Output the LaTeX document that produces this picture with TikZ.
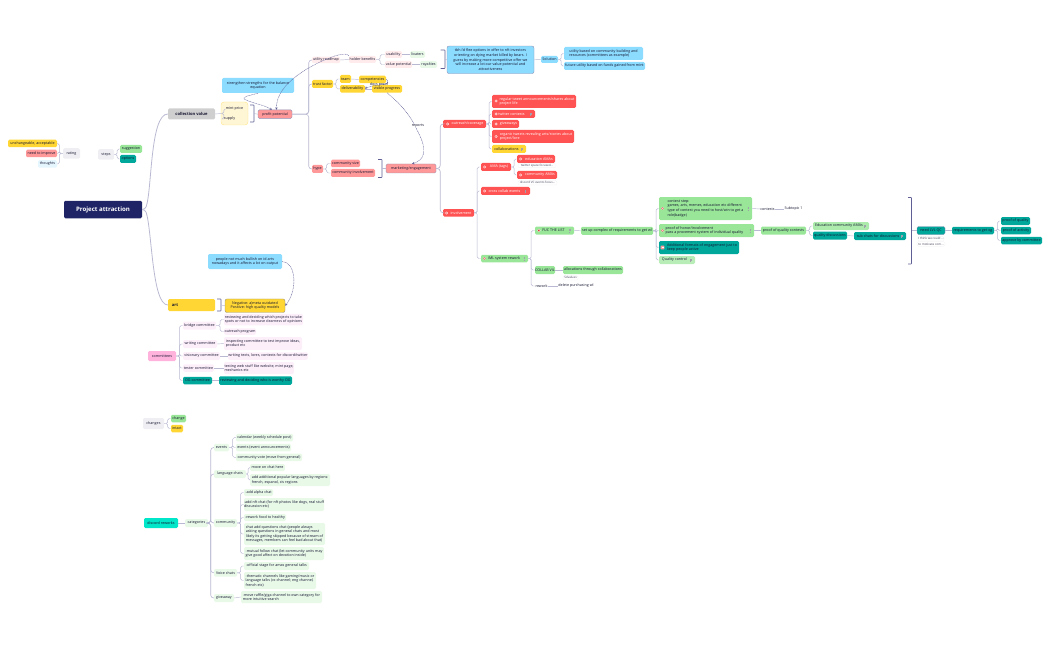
\documentclass[tikz,border=0pt]{standalone}
\usepackage{fontspec}
\setmainfont{Open Sans}
\usepackage{tikz}
\usetikzlibrary{arrows, arrows.meta, positioning}

\definecolor{inkdark}{HTML}{141430}
\definecolor{navy}{HTML}{1F2466}
\definecolor{linelav}{HTML}{B9B9D3}
\definecolor{sumline}{HTML}{5F5F96}
\definecolor{greybox}{HTML}{CFCFCF}
\definecolor{palegrey}{HTML}{EFEFF3}
\definecolor{goldbox}{HTML}{FFD633}
\definecolor{creambox}{HTML}{FFF6D5}
\definecolor{pinkbox}{HTML}{FF9999}
\definecolor{palepink}{HTML}{FFEBEB}
\definecolor{redbox}{HTML}{FF5252}
\definecolor{skybox}{HTML}{8CDCFF}
\definecolor{paleblue}{HTML}{E5F6FF}
\definecolor{greenbox}{HTML}{99E699}
\definecolor{palegreen}{HTML}{E8F9E8}
\definecolor{tealbox}{HTML}{00A89C}
\definecolor{aquabox}{HTML}{00E6C8}
\definecolor{rosebox}{HTML}{FFB3DC}
\definecolor{palerose}{HTML}{FDEFFA}

\tikzset{
    wh/.style 2 args={minimum width=#1pt, minimum height=#2pt},
    item/.style={inner sep=0pt, rounded corners=1.3pt, align=center, text=inkdark,
        font=\fontsize{3.65}{4.6}\selectfont},
    greyitem/.style={item, fill=palegrey},
    golditem/.style={item, fill=goldbox},
    pinkitem/.style={item, fill=pinkbox},
    ppinkitem/.style={item, fill=palepink},
    reditem/.style={item, fill=redbox, text=white},
    skyitem/.style={item, fill=skybox},
    greenitem/.style={item, fill=greenbox},
    pgreenitem/.style={item, fill=palegreen},
    tealitem/.style={item, fill=tealbox},
    roseitem/.style={item, fill=palerose},
    noteitem/.style={item, fill=white, draw=palegrey, line width=0.25pt, text=inkdark!80,
        font=\fontsize{3}{3.8}\selectfont},
    plain/.style={item, text=inkdark},
    marked/.style={draw=sumline!70, line width=0.4pt},
    link/.style={draw=linelav, line width=0.45pt, rounded corners=1.5pt},
    trunk/.style={draw=linelav, line width=0.8pt, rounded corners=3pt},
    bracket/.style={draw=sumline, line width=0.55pt, rounded corners=0.6pt},
    relation/.style={draw=sumline, line width=0.4pt, dash pattern=on 1pt off 0.6pt, -{Stealth[length=2.4pt,width=2.4pt]}}
}

\begin{document}
\begin{tikzpicture}[x=1pt, y=-1pt]
    \useasboundingbox (0,0) rectangle (1050,650);

    % legends
    \node[golditem, wh={49}{7.5}] (unchangeable) at (32.5,143.5) {unchangeable, acceptable};
    \node[pinkitem, wh={31}{7.5}] (improve) at (41.5,153.5) {need to improve};
    \node[item, fill=paleblue, wh={19}{7.5}] (thoughts) at (47.5,164) {thoughts};
    \node[greyitem, wh={17}{10.5}] (rating) at (71.5,153.5) {rating};
    \node[greyitem, wh={16}{10.5}] (steps) at (106,154.5) {steps};
    \node[greenitem, wh={22}{8}] (suggestion) at (131,149) {suggestion};
    \node[tealitem, wh={16}{8}] (options) at (128,159) {options};

    % root and main branches
    \node[item, fill=navy, text=white, wh={78}{17.5}, font=\fontsize{6.1}{7}\selectfont\bfseries] (project) at (103,209.5) {Project attraction};
    \node[item, fill=greybox, wh={47}{11}, font=\fontsize{4.1}{5}\selectfont\bfseries] (collection) at (191.5,114) {collection value};
    \node[item, fill=goldbox, wh={47}{12}, font=\fontsize{4.1}{5}\selectfont\bfseries, text depth=0pt] (art) at (191.5,305) {\hspace*{-33pt}art};

    % collection value
    \node[item, fill=creambox, draw=goldbox!60, line width=0.4pt, rounded corners=3pt, wh={27}{23}] (mintbox) at (234.5,113.5) {};
    \node[plain] (mintprice) at (234.5,109) {mint price};
    \node[plain] (supply) at (229.5,119) {supply};
    \node[pinkitem, marked, wh={34}{8.5}] (profit) at (275,114.2) {profit potential};
    \node[skyitem, wh={72}{15}] (strengthen) at (258,85.5) {strengthen strengths for the balance\\equation};

    \node[ppinkitem, wh={28}{6.5}] (utility) at (326,60) {utility roadmap};
    \node[ppinkitem, wh={27}{7}] (holder) at (362.5,59.5) {holder benefits};
    \node[ppinkitem, wh={17}{7}] (usability) at (393.5,54.5) {usability};
    \node[ppinkitem, wh={27}{7}] (valuepot) at (398.5,64.5) {value potential};
    \node[pgreenitem, wh={15}{7}] (lixaters) at (417.5,54.5) {lixaters};
    \node[pgreenitem, wh={17}{7}] (royalties) at (428.5,64.5) {royalties};
    \node[skyitem, marked, rounded corners=2pt, wh={87}{27.5}] (flee) at (490.5,59.8) {tbh i'd flee options in offer to nft investors\\orienting on dying market killed by bears. I\\guess by making more competitive offer we\\will increase a lot our value potential and\\attractiveness};
    \node[skyitem, wh={17}{7}] (solution) at (549.5,59.5) {Solution};
    \node[skyitem, align=left, wh={79}{13}] (utilbased) at (603.5,53.5) {utility based on community building and\\resources (committees as example)};
    \node[skyitem, wh={81}{8}] (future) at (604.5,66) {future utility based on funds gained from mint};

    \node[golditem, wh={21}{8}] (trust) at (322.5,84) {trust factor};
    \node[golditem, wh={11}{8}] (team) at (345.5,79) {team};
    \node[golditem, wh={27}{7.5}] (competencies) at (372.5,79.5) {competencies};
    \node[golditem, wh={25}{7.5}] (deliverability) at (352.5,88.8) {deliverability};
    \node[golditem, wh={30}{7.5}] (visible) at (387,88.8) {visible progress};
    \node[pinkitem, wh={11}{8}] (hype) at (317.5,169) {hype};
    \node[pinkitem, wh={29}{7.5}] (commsize) at (345.5,163.5) {community size};
    \node[pinkitem, wh={44}{8}] (comminv) at (353,173) {community involvement};
    \node[pinkitem, marked, wh={50}{9}] (marketing) at (411,168.5) {marketing/engagement};

    % outreach
    \node[reditem, wh={43}{8}] (outreach) at (464.5,124) {\hspace*{6pt}outreach/coverage};
    \node[reditem, align=left, wh={84}{13}] (regular) at (534,101.5) {\hspace*{6pt}regular tweet announcements/shares about\\\hspace*{6pt}project life\hspace*{50pt}};
    \node[reditem, wh={43}{8}] (contests) at (513.5,114) {\hspace*{2pt}twitter contests\hspace*{6pt}};
    \node[reditem, wh={27}{8}] (giveaways) at (505.5,124) {\hspace*{6pt}giveaways};
    \node[reditem, align=left, wh={82}{13}] (organic) at (533,136.5) {\hspace*{6pt}organic tweets revealing arts/stories about\\\hspace*{6pt}project/lore\hspace*{50pt}};
    \node[golditem, wh={34}{8}] (collabs) at (509,149) {collaborations\hspace*{5pt}};

    % involvement
    \node[reditem, wh={31}{7.5}] (involvement) at (458.5,212.8) {\hspace*{5pt}involvement};
    \node[reditem, wh={30}{8}] (amatags) at (496,167) {\hspace*{6pt}AMA (tags)};
    \node[reditem, wh={38}{8}] (eduama) at (536,159) {\hspace*{6pt}education AMAs};
    \node[noteitem, wh={38}{4.5}] (spacefocus) at (537,165.5) {twitter space focused...};
    \node[reditem, wh={40}{8}] (commama) at (537,175) {\hspace*{6pt}community AMAs};
    \node[noteitem, wh={39}{4.5}] (vcfocus) at (537.5,182.8) {discord VC events focus...};
    \node[reditem, wh={49}{8}] (crosscollab) at (505.5,191) {\hspace*{1pt}cross collab events\hspace*{3pt}};
    \node[greenitem, wh={47}{7.5}] (iml) at (504.5,258.5) {\hspace*{2pt}IML system rework\hspace*{3pt}};
    \node[greenitem, wh={39}{8}] (fuc) at (554.5,230.5) {\hspace*{1pt}FUC THE LIST\hspace*{3pt}};
    \node[greenitem, wh={72}{8}] (setup) at (617,230.8) {set up complex of requirements to get wl};
    \node[greenitem, align=left, wh={93}{23}] (conteststep) at (705.5,208.5) {contest step:\\games, arts, memes, education etc different\\type of contest you need to host/win to get a\\role(badge)};
    \node[plain] (contestsub) at (767.5,209) {contests};
    \node[plain] (subtopic) at (793.5,209) {Subtopic 1};
    \node[greenitem, align=left, wh={95}{13}] (honor) at (706.5,230.5) {proof of honor/involvement\\pass a provement system of individual quality\hspace*{4pt}};
    \node[greenitem, wh={45}{8}] (qualcontests) at (783.5,230.5) {proof of quality contests};
    \node[tealitem, align=left, wh={80}{13}] (formats) at (699,247.5) {\hspace*{6pt}Additional formats of engagement just to\\\hspace*{6pt}keep people active};
    \node[pgreenitem, fill=greenbox!70, wh={36}{8}] (qualcontrol) at (677,260) {Quality control\hspace*{5pt}};
    \node[greenitem, fill=greenbox!80, wh={56}{8}] (educomm) at (841,226) {Education community AMAs\hspace*{4pt}};
    \node[tealitem, wh={34}{8}] (qualdisc) at (830,235.5) {quality discussions};
    \node[tealitem, wh={52}{8}] (subchats) at (880,236) {sub chats for discussions\hspace*{4pt}};
    \node[tealitem, marked, wh={28}{8}] (needlvl) at (931,230.5) {need LVL QC};
    \node[noteitem, wh={26}{4.5}] (thinknote) at (931,238.8) {I think we could ...};
    \node[noteitem, wh={28}{4.5}] (motivnote) at (931,244) {to motivate com...};
    \node[tealitem, wh={42}{7.5}] (reqs) at (973,230.5) {requirements to get og};
    \node[tealitem, wh={29}{8}] (proofqual) at (1015.5,221) {proof of quality};
    \node[tealitem, wh={30}{7.5}] (proofact) at (1016,230.5) {proof of activity};
    \node[tealitem, wh={41}{7.5}] (approve) at (1021.5,240.5) {approve by committee};
    \node[greenitem, wh={20}{8}] (collabvil) at (545,270) {COLLAB VIL};
    \node[greenitem, wh={60}{8}] (alloc) at (593,270) {allocations through collaborations};
    \node[noteitem, wh={15}{4.5}] (sdvalues) at (570.5,277.8) {Sdvalues};
    \node[plain] (rework) at (541.5,286) {rework};
    \node[plain] (delete) at (576,286) {delete purchasing wl};

    % art and committees
    \node[skyitem, wh={74}{15}] (bullish) at (245,261.5) {people not much bullish on id arts\\nowadays and it affects a lot on output};
    \node[golditem, draw=sumline!60!goldbox, line width=0.4pt, rounded corners=2pt, wh={60}{13.5}] (negative) at (255,305.7) {Negative: a)meta outdated\\Positive: high quality models};
    \node[item, fill=rosebox, wh={28}{10}] (committees) at (162,356) {committees};
    \node[roseitem, wh={33}{8}] (bridge) at (199.5,325.5) {bridge committee};
    \node[roseitem, align=left, wh={79}{11.5}] (reviewing) at (263.5,319.5) {reviewing and deciding which projects to take\\spots or not to increase clearness of opinions};
    \node[roseitem, wh={32}{6.5}] (outprog) at (240,331.5) {outreach program};
    \node[roseitem, wh={34}{8}] (writingc) at (200,344) {writing committee};
    \node[roseitem, align=left, wh={78}{13}] (inspecting) at (263,343.5) {inspecting committee to test improve ideas,\\product etc\hspace*{50pt}};
    \node[roseitem, wh={37}{8}] (visionary) at (201.5,356) {visionary committee};
    \node[roseitem, wh={80}{7.5}] (writingt) at (268,356) {writing texts, lores, contexts for discord/twitter};
    \node[roseitem, wh={31}{7.5}] (tester) at (198.5,368) {tester committee};
    \node[roseitem, align=left, wh={70}{12}] (testing) at (259,368) {testing web stuff like website, mint page,\\mechanics etc};
    \node[tealitem, wh={29}{7.5}] (ogc) at (197.5,380.5) {OG committee};
    \node[tealitem, wh={73}{8.5}] (ogreview) at (255.5,380.5) {reviewing and deciding who is worthy OG};

    % changes
    \node[greyitem, wh={21}{11}] (changes) at (153.5,423.5) {changes};
    \node[greenitem, wh={15}{7.5}] (change) at (178.5,418.5) {change};
    \node[golditem, wh={12}{7.5}] (intact) at (177,428.5) {intact};

    % discord rework
    \node[item, fill=aquabox, wh={34}{10}] (discord) at (161,523) {discord reworks};
    \node[pgreenitem, wh={23}{8}] (categories) at (196.5,523) {categories};
    \node[pgreenitem, wh={15}{7.5}] (events) at (221.5,447.5) {events};
    \node[pgreenitem, wh={57}{7.5}] (calendar) at (264.5,437.7) {calendar (weekly schedule post)};
    \node[pgreenitem, wh={55}{7.5}] (announce) at (263.5,447.5) {events (event announcements)};
    \node[pgreenitem, wh={66}{7.5}] (vote) at (269,457.3) {community vote (move from general)};
    \node[pgreenitem, wh={32}{8}] (language) at (230,474) {language chats};
    \node[pgreenitem, wh={35}{7}] (moveon) at (267.5,467.5) {move on chat here};
    \node[pgreenitem, align=left, wh={80}{12}] (addlang) at (290,480) {add additional popular languages by regions:\\french, espanol, cis regions\hspace*{26pt}};
    \node[pgreenitem, wh={23}{8}] (community) at (225.5,523) {community};
    \node[pgreenitem, wh={29}{7}] (alpha) at (258.5,492.5) {-add alpha chat};
    \node[pgreenitem, align=left, wh={80}{13}] (nftchat) at (284,504.5) {-add nft chat (for nft photos like dogs, real stuff\\discussion etc)\hspace*{48pt}};
    \node[pgreenitem, wh={42}{7}] (food) at (265,517.5) {-rework food to healthy};
    \node[pgreenitem, align=left, wh={81}{22}] (questions) at (284.5,534) {chat add questions chat (people always\\asking questions in general chats and most\\likely its getting skipped because of stream of\\messages, members can feel bad about that)};
    \node[pgreenitem, align=left, wh={80}{13}] (mutual) at (284,553.5) {-mutual follow chat (let community units may\\give good affect on devotion inside)};
    \node[pgreenitem, wh={23}{7.5}] (voice) at (225.5,572.8) {Voice chats};
    \node[pgreenitem, wh={65}{8}] (stage) at (276.5,566) {-official stage for amas general talks};
    \node[pgreenitem, align=left, wh={72}{17}] (thematic) at (280,580.5) {-thematic channels like gaming/music or\\language talks (vc channel; eng channel,\\french etc)};
    \node[pgreenitem, wh={20}{8}] (giveawaycat) at (224,598) {giveaway};
    \node[pgreenitem, align=left, wh={81}{12}] (raffle) at (281.5,597) {-move raffle/giga channel to own category for\\more intuitive search};

    % main branches
    \draw[trunk] (project.east) -- ++(3,0) .. controls (152,190) and (150,114) .. (collection.west);
    \draw[trunk] (project.east) -- ++(3,0) .. controls (152,230) and (152,305) .. (art.west);

    % tree branches
    \foreach \kid in {unchangeable,improve,thoughts}
    \draw[link] (rating.west) -- ++(-3.5,0) |- (\kid.east);
    \foreach \kid in {suggestion,options}
    \draw[link] (steps.east) -- ++(3,0) |- (\kid.west);
    \foreach \kid in {usability,valuepot}
    \draw[link] (holder.east) -- ++(4,0) |- (\kid.west);
    \foreach \kid in {team,deliverability}
    \draw[link] (trust.east) -- ++(3,0) |- (\kid.west);
    \foreach \kid in {commsize,comminv}
    \draw[link] (hype.east) -- ++(3.5,0) |- (\kid.west);
    \foreach \kid in {utilbased,future}
    \draw[link] (solution.east) -- ++(3,0) |- (\kid.west);
    \foreach \kid in {regular,contests,giveaways,organic,collabs}
    \draw[link] (outreach.east) -- ++(3,0) |- (\kid.west);
    \foreach \kid in {amatags,crosscollab,iml}
    \draw[link] (involvement.east) -- ++(3,0) |- (\kid.west);
    \foreach \kid in {eduama,commama}
    \draw[link] (amatags.east) -- ++(3,0) |- (\kid.west);
    \foreach \kid in {fuc,collabvil,rework}
    \draw[link] (iml.east) -- ++(3,0) |- (\kid.west);
    \foreach \kid in {conteststep,honor,formats,qualcontrol}
    \draw[link] (setup.east) -- ++(3,0) |- (\kid.west);
    \foreach \kid in {educomm,qualdisc}
    \draw[link] (qualcontests.east) -- ++(3.5,0) |- (\kid.west);
    \foreach \kid in {proofqual,proofact,approve}
    \draw[link] (reqs.east) -- ++(3.5,0) |- (\kid.west);
    \foreach \kid in {bridge,writingc,visionary,tester,ogc}
    \draw[link] (committees.east) -- ++(3.5,0) |- (\kid.west);
    \foreach \kid in {reviewing,outprog}
    \draw[link] (bridge.east) -- ++(4,0) |- (\kid.west);
    \foreach \kid in {change,intact}
    \draw[link] (changes.east) -- ++(3.5,0) |- (\kid.west);
    \foreach \kid in {calendar,announce,vote}
    \draw[link] (events.east) -- ++(3.5,0) |- (\kid.west);
    \foreach \kid in {moveon,addlang}
    \draw[link] (language.east) -- ++(2,0) |- (\kid.west);
    \foreach \kid in {alpha,nftchat,food,questions,mutual}
    \draw[link] (community.east) -- ++(3.5,0) |- (\kid.west);
    \foreach \kid in {stage,thematic}
    \draw[link] (voice.east) -- ++(3.5,0) |- (\kid.west);

    \foreach \kid in {utility,trust,hype}
    \draw[trunk, line width=0.6pt] (profit.east) -- ++(16.5,0) |- (\kid.west);
    \foreach \kid in {outreach,involvement}
    \draw[trunk, line width=0.7pt] (marketing.east) -- ++(4,0) |- (\kid.west);
    \foreach \kid in {events,language,community,voice,giveawaycat}
    \draw[trunk, line width=0.6pt] (categories.east) -- ++(2.5,0) |- (\kid.west);

    % single links
    \foreach \src/\dst in {collection/mintbox,utility/holder,usability/lixaters,valuepot/royalties,
        flee/solution,team/competencies,deliverability/visible,fuc/setup,collabvil/alloc,rework/delete,
        conteststep/contestsub,contestsub/subtopic,honor/qualcontests,qualdisc/subchats,
        needlvl/reqs,writingc/inspecting,visionary/writingt,tester/testing,ogc/ogreview,
        discord/categories,giveawaycat/raffle}
    \draw[link] (\src.east) -- (\dst.west);
    \foreach \kid in {mintprice,supply}
    \draw[link] (mintbox.west) -- ++(3,0) |- (\kid.west);

    % brackets
    \coordinate (mintsum) at (254,113.5);
    \draw[bracket] (250,105) -| (mintsum) |- (250,122);
    \draw[link] (mintsum) -- (profit.west);
    \coordinate (royalsum) at (445,59.5);
    \draw[bracket] (440.5,50) -| (royalsum) |- (440.5,68.5);
    \draw[link] (royalsum) -- (flee.west);
    \coordinate (hypesum) at (382,168.5);
    \draw[bracket] (378,159.5) -| (hypesum) |- (378,177.5);
    \draw[link] (hypesum) -- (marketing.west);
    \coordinate (artsum) at (221,305);
    \draw[bracket] (217,299) -| (artsum) |- (217,311);
    \draw[link] (artsum) -- (negative.west);
    \coordinate (contestsum) at (911.5,230.5);
    \draw[bracket] (908,197.5) -| (contestsum) |- (908,264);
    \draw[link] (contestsum) -- (needlvl.west);

    % relations
    \draw[relation] (strengthen.south) .. controls (248,96) and (240,97) .. (246,100) .. controls (252,103) and (264,105) .. ([xshift=-3pt]profit.north);
    \draw[relation] (holder.north west) .. controls (346,52) and (335,55) .. (320,62) .. controls (295,74) and (276,90) .. ([xshift=1.5pt]profit.north);
    \draw[relation] (competencies.east) .. controls (389,80) and (388,84) .. (384,84.5) -- (372,86) .. controls (369,87) and (366,88) .. (deliverability.east);
    \node[plain, text height=2.5pt, text depth=0.5pt] (docsproof) at (379,85) {docs proof};
    \draw[relation] (visible.south) .. controls (402,105) and (412,118) .. (417,130) .. controls (428,150) and (425,160) .. ([xshift=1pt]marketing.north);
    \node[item, fill=white, text height=2.5pt, text depth=0.5pt] (reports) at (418,126) {reports};
    \draw[relation] (bullish.east) .. controls (296,262) and (298,290) .. (negative.east);

    % status icons
    \foreach \x/\y in {447.5/124,496/101,496/114,496/124,496/136.5,484.5/167,520.5/159,520.5/175,484.5/191,446.5/213}
    {
        \fill[white, opacity=0.85] (\x,\y) circle (1.5);
        \fill[redbox] (\x,\y) circle (0.7);
    }
    \foreach \x/\y in {484.5/258.5,539/230.5,662.5/208.5,662.5/230.5}
    {
        \fill[white] (\x,\y) circle (1.6);
        \fill[red!80!black] (\x,\y) circle (1.1);
        \fill[white] (\x,\y) circle (0.5);
    }
    \fill[pinkbox, rounded corners=0.4pt] (660.7,245.7) rectangle (664.3,249.3);
    \fill[white] (661.5,247) rectangle (663.5,248);

    % note marks
    \foreach \x/\y in {531/114,522/149,525.5/191,524.5/258.5,570/230.5,748.5/208.5,750.5/230.5,691/260,865/226,902/236}
    {
        \draw[inkdark!40, line width=0.2pt] (\x-0.9,\y-1.1) -- (\x+0.9,\y-1.1) (\x-0.9,\y) -- (\x+0.9,\y) (\x-0.9,\y+1.1) -- (\x+0.3,\y+1.1);
    }
\end{tikzpicture}
\end{document}
